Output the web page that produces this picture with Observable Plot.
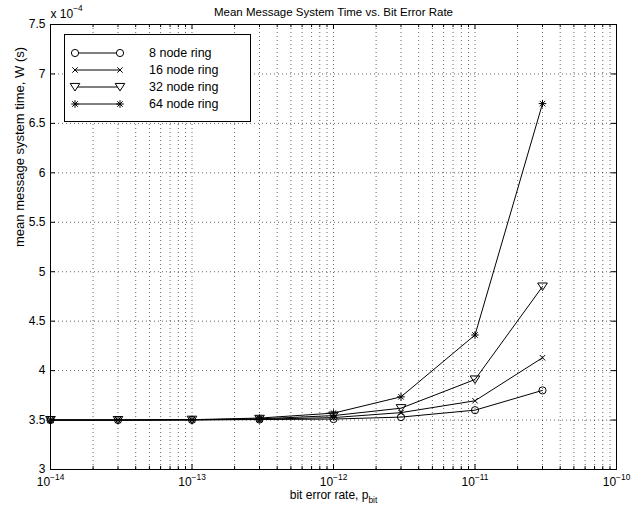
<!DOCTYPE html>
<html><head><meta charset="utf-8">
<script src="https://cdn.jsdelivr.net/npm/d3@7"></script>
<script src="https://cdn.jsdelivr.net/npm/@observablehq/plot@0.6"></script>
<style>
body{margin:0;background:#fff}
svg{font-family:"Liberation Sans",Arial,Helvetica,sans-serif}
</style>
</head><body><div id="chart"></div>
<script>
// ---- data (y in units of 1e-4 s) ----
const ber = [1e-14, 3e-14, 1e-13, 3e-13, 1e-12, 3e-12, 1e-11, 3e-11];
const ring8  = [3.500, 3.500, 3.502, 3.505, 3.510, 3.530, 3.600, 3.800];
const ring16 = [3.500, 3.500, 3.502, 3.508, 3.525, 3.575, 3.695, 4.130];
const ring32 = [3.500, 3.500, 3.503, 3.512, 3.545, 3.620, 3.910, 4.850];
const ring64 = [3.500, 3.500, 3.504, 3.520, 3.570, 3.735, 4.360, 6.700];
const seriesNames = ["8 node ring", "16 node ring", "32 node ring", "64 node ring"];
const yTicks = [3, 3.5, 4, 4.5, 5, 5.5, 6, 6.5, 7, 7.5];
const xMajor = [1e-14, 1e-13, 1e-12, 1e-11, 1e-10];
const decades = [-14, -13, -12, -11];
const minorMult = [2, 3, 4, 5, 6, 7, 8, 9];
const titleText = "Mean Message System Time vs. Bit Error Rate";
const xLabel = "bit error rate, p_bit";
const yLabel = "mean message system time, W (s)";
const yExponent = "x 10^\u22124";

// ---- symbols ----
const triDown = {draw(c, size){const r=Math.sqrt(size/Math.PI);c.moveTo(-1.15*r,-0.85*r);c.lineTo(1.15*r,-0.85*r);c.lineTo(0,0.95*r);c.closePath();}};
const timesSym = {draw(c, size){const r=Math.sqrt(size/Math.PI)*0.75;c.moveTo(-r,-r);c.lineTo(r,r);c.moveTo(-r,r);c.lineTo(r,-r);}};
const starSym = {draw(c, size){const r=Math.sqrt(size/Math.PI);const d=r*0.72;c.moveTo(-r,0);c.lineTo(r,0);c.moveTo(0,-r);c.lineTo(0,r);c.moveTo(-d,-d);c.lineTo(d,d);c.moveTo(-d,d);c.lineTo(d,-d);}};
const symbols = [d3.symbolCircle, timesSym, triDown, starSym];
const radii = [3.6, 3.6, 4.2, 3.8];

const seriesValues = [ring8, ring16, ring32, ring64];
const rows = seriesValues.map((vals, si) => ber.map((x, i) => ({x, y: vals[i], s: seriesNames[si]})));

const xMinor = decades.flatMap(e => minorMult.map(m => m * Math.pow(10, e)));
const xGrid = xMinor.concat(xMajor.slice(1, -1));

const W = 642, H = 514, mL = 50, mR = 26, mT = 24, mB = 45;
const pw = W - mL - mR, ph = H - mT - mB;
const gridStyle = {stroke: "black", strokeDasharray: "1,3", strokeOpacity: 0.6, strokeWidth: 1};

const marks = [
  Plot.ruleX(xGrid, {x: d => d, ...gridStyle}),
  Plot.ruleY(yTicks.slice(1, -1), {y: d => d, ...gridStyle}),
];
rows.forEach((r, si) => {
  marks.push(Plot.line(r, {x: "x", y: "y", stroke: "black", strokeWidth: 1}));
  marks.push(Plot.dot(r, {x: "x", y: "y", symbol: symbols[si], r: radii[si], stroke: "black", fill: "none", strokeWidth: 1}));
});
marks.push(
  Plot.tickX(xMajor, {x: d => d, insetTop: ph - 5, stroke: "black"}),
  Plot.tickX(xMajor, {x: d => d, insetBottom: ph - 5, stroke: "black"}),
  Plot.tickX(xMinor, {x: d => d, insetTop: ph - 3, stroke: "black"}),
  Plot.tickX(xMinor, {x: d => d, insetBottom: ph - 3, stroke: "black"}),
  Plot.tickY(yTicks, {y: d => d, insetRight: pw - 5, stroke: "black"}),
  Plot.tickY(yTicks, {y: d => d, insetLeft: pw - 5, stroke: "black"}),
  Plot.frame({stroke: "black", strokeWidth: 1}),
  Plot.axisX(xMajor, {tickSize: 0, tickPadding: 8, label: null, fontSize: 12,
    tickFormat: d => "10^" + String(Math.round(Math.log10(d))).replace("-", "\u2212")}),
  Plot.axisY(yTicks, {tickSize: 0, tickPadding: 5, label: null, fontSize: 12, tickFormat: d => String(d)}),
  Plot.text([titleText], {frameAnchor: "top", dy: -9, lineAnchor: "bottom", fontSize: 11.5}),
  Plot.text([yExponent], {frameAnchor: "top-left", textAnchor: "start", dy: -7, lineAnchor: "bottom", fontSize: 12}),
  Plot.text([xLabel], {frameAnchor: "bottom", dy: 29, fontSize: 12}),
  Plot.text([yLabel], {frameAnchor: "left", rotate: -90, dx: -31, fontSize: 13})
);

const svg = Plot.plot({
  width: W, height: H, marginLeft: mL, marginRight: mR, marginTop: mT, marginBottom: mB,
  style: {fontFamily: '"Liberation Sans", Arial, sans-serif', fontSize: "12px", background: "white", color: "black", overflow: "visible"},
  x: {type: "log", domain: [1e-14, 1e-10]},
  y: {domain: [3, 7.5]},
  marks
});

// rich text: ^ superscript, _ subscript
svg.querySelectorAll("text").forEach(t => {
  if (t.querySelector("tspan")) return;
  const m = t.textContent.match(/^(.*?)([\^_])(.*)$/);
  if (!m) return;
  t.textContent = m[1];
  const ts = document.createElementNS("http://www.w3.org/2000/svg", "tspan");
  ts.setAttribute("font-size", "70%");
  ts.setAttribute("dy", m[2] === "^" ? "-0.75em" : "0.5em");
  ts.textContent = m[3];
  t.appendChild(ts);
});

// legend
const g = d3.select(svg).append("g").attr("aria-label", "legend");
const lx0 = 64, ly0 = 34, lw = 186, lh = 87;
g.append("rect").attr("x", lx0 + 0.5).attr("y", ly0 + 0.5).attr("width", lw).attr("height", lh)
  .attr("fill", "white").attr("stroke", "black");
seriesNames.forEach((name, i) => {
  const y = 53 + i * 17;
  g.append("line").attr("x1", 75).attr("x2", 120).attr("y1", y).attr("y2", y).attr("stroke", "black");
  [75, 120].forEach(x => {
    g.append("path").attr("transform", `translate(${x},${y})`)
      .attr("d", d3.symbol(symbols[i], radii[i] * radii[i] * Math.PI)())
      .attr("fill", i === 0 || i === 2 ? "white" : "none").attr("stroke", "black");
  });
  g.append("text").attr("x", 149).attr("y", y).attr("dy", "0.35em").attr("text-anchor", "start")
    .attr("font-size", 12.5).text(name);
});

document.getElementById("chart").appendChild(svg);
</script>
</body></html>
